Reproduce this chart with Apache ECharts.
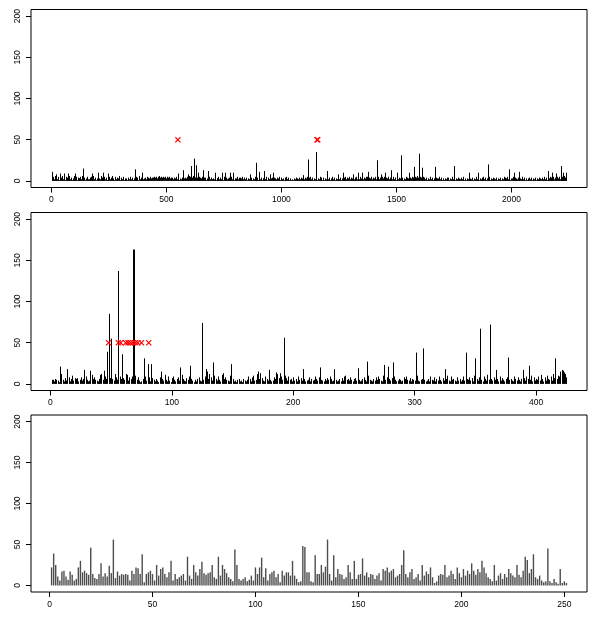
<!DOCTYPE html>
<html>
<head>
<meta charset="utf-8">
<script src="https://cdn.jsdelivr.net/npm/echarts@6/dist/echarts.min.js"></script>
<style>html,body{margin:0;padding:0;background:#fff;}#c{width:600px;height:620px;}</style>
</head>
<body>
<div id="c"></div>
<script>
// ---------- Panel 1 (n = 2239) ----------
const p1N = 2239;
// low-level values, one reading per 4 observations (observation 4k+2)
const p1Base = (
"3526342513 4623153426 2413625143 3526241352" +
"2415362413 5326143524 1352462315 2436142513" +
"2314252413 3524162432 3425343534 4545354645" +
"4545354534 3424352413 2425343536 5646564745" +
"5435342413 2524232413 3524231524 2314252413" +
"3524143524 2413253413 2524152413 3425142534" +
"2413243514 2314152413 1213241324 2435243524" +
"3524132413 2524141324 2413152413 2524132435" +
"2435243524 3524253524 3545243524 3524352435" +
"3524352413 2524132435 2413254324 3524354645" +
"5435242413 2524132413 3524131324 2413252413" +
"2413242513 1324132413 2524132435 2413251324" +
"1324132413 2524352413 3524132413 2524131324" +
"2413241324 1324252413 3524352435 3524354645").replace(/\s+/g, '');
const p1Step = 4;
// peaks: [observation, value]
const p1Peaks = [
[1,11],[18,8],[37,9],[56,9],[71,9],[103,9],[136,15],[175,9],[204,10],[226,10],[248,9],
[363,14],[392,10],[549,9],[571,13],[595,8],[606,18],[619,27],[627,19],[639,10],[660,13],
[682,12],[711,10],[740,10],[755,10],[777,10],[791,10],[863,8],[888,22],[904,11],[924,12],
[950,8],[965,10],[1093,7],[1114,26],[1152,35],[1197,12],[1245,8],[1267,10],[1313,8],
[1333,10],[1349,10],[1377,11],[1414,25],[1432,8],[1450,10],[1475,13],[1501,10],[1518,31],
[1555,10],[1578,17],[1597,33],[1613,16],[1668,17],[1750,18],[1816,10],[1856,10],[1900,20],
[1991,14],[2011,10],[2033,11],[2160,12],[2178,10],[2193,9],[2214,18],[2226,10],[2237,10]];
const p1Marks = [[550,50],[1155,50],[1158,50]];
const p1XTicks = [0,500,1000,1500,2000];

// ---------- Panel 2 (n = 425) ----------
const p2Values = [
5,5,3,6,5,4,2,21,12,5,3,7,4,18,8,3,6,10,4,7,6,7,3,5,8,
4,6,17,9,5,3,4,16,11,6,8,5,4,3,6,11,12,5,16,9,6,39,85,7,55,
6,4,12,8,5,137,9,6,36,7,5,12,11,4,8,6,9,163,163,10,5,8,4,2,3,
6,31,9,4,24,8,3,24,7,5,3,6,4,2,8,15,6,4,11,5,3,9,4,2,7,
9,5,3,6,8,4,20,11,6,4,3,7,5,9,22,6,4,2,5,3,6,8,4,3,74,
5,9,18,15,6,12,8,4,26,10,6,4,9,5,3,11,13,6,8,5,4,3,10,24,6,
3,4,2,5,6,3,4,2,6,4,3,5,9,6,3,8,10,4,5,12,15,6,13,7,4,
3,9,6,4,17,5,3,4,8,6,14,12,7,13,9,5,56,10,7,4,9,5,6,3,8,
4,6,3,9,5,7,4,18,6,3,4,5,8,3,6,4,5,9,6,4,8,20,5,4,3,
6,4,7,5,9,6,3,4,18,5,3,4,6,3,7,4,9,10,5,6,4,8,5,3,6,
7,4,19,5,3,4,6,8,5,3,27,10,5,4,3,6,4,8,5,9,6,4,3,10,23,
5,8,21,6,4,7,26,9,5,3,4,6,5,3,4,8,6,9,5,4,7,3,6,5,4,
38,10,4,3,5,6,43,5,3,4,6,3,9,5,4,8,3,6,4,9,5,3,7,4,18,
6,10,4,3,9,5,6,4,3,8,4,6,3,5,9,4,38,6,5,8,4,7,3,10,31,
6,4,8,67,5,3,9,6,4,11,5,72,6,4,8,5,17,6,3,9,4,7,5,3,6,
8,32,5,6,4,3,9,6,4,8,5,3,6,17,7,4,9,6,22,5,10,3,8,4,6,
5,9,4,11,6,3,8,4,10,6,5,9,4,12,7,31,6,10,9,15,17,16,14,12,8];
const p2Marks = [[48,50],[56,50],[58,50],[62,50],[64,50],[66,50],[68,50],[70,50],[72,50],[75,50],[81,50]];
const p2XTicks = [0,100,200,300,400];

// ---------- Panel 3 (n = 251) ----------
const p3Values = [
22,39,25,11,6,17,18,11,7,17,13,6,8,22,30,16,18,15,13,46,14,9,8,14,27,
11,15,11,24,15,56,9,17,12,14,13,14,13,6,18,14,22,21,14,38,4,14,16,18,14,
6,25,12,20,22,14,10,16,30,6,14,8,10,12,14,6,35,12,8,25,16,12,20,29,15,
13,15,16,25,10,8,35,12,25,20,15,10,8,5,44,25,8,6,8,10,5,7,12,6,22,
14,22,34,10,21,6,14,16,18,10,14,4,18,12,16,16,12,30,12,8,4,5,48,47,16,
16,5,4,37,14,14,25,16,23,56,14,6,37,10,20,14,13,8,10,25,16,8,30,8,13,
14,33,12,16,10,14,13,8,12,15,6,20,18,22,16,18,20,10,12,14,25,43,14,10,16,
20,8,10,14,6,25,12,17,14,22,10,3,5,12,14,13,25,10,12,18,14,8,22,15,10,
20,12,18,14,27,18,13,20,16,30,22,15,10,8,5,25,6,12,15,8,14,10,20,15,12,
10,25,13,10,18,35,31,15,20,38,10,8,12,6,4,5,45,5,3,8,4,2,20,3,5,
3];
const p3XTicks = [0,50,100,150,200,250];

const yTicks = [0,50,100,150,200];

// ---------- build ----------
function rExtent(n){ const d = 0.04*(n-1); return [1-d, n+d]; }
const data1 = p1Base.split('').map((c,k)=>[k*p1Step+2, +c]).concat(p1Peaks);
const data2 = p2Values.map((v,i)=>[i+1, v]);
const data3 = p3Values.map((v,i)=>[i+1, v]);
const n1 = p1N, n2 = p2Values.length, n3 = p3Values.length;

const grids = [
  {left:31, right:13, top:9.5, height:178},
  {left:31, right:13, top:212.5, height:178},
  {left:31, right:13, top:415, height:177}
].map(g=>Object.assign(g,{show:true, borderColor:'#000', borderWidth:1, backgroundColor:'transparent', containLabel:false}));

const font = {fontFamily:'Liberation Sans, Arial, sans-serif', fontSize:8.5, color:'#000',
  formatter:function(v){ return String(Math.round(v)); }};
function xAxis(i, n, ticks){
  const e = rExtent(n);
  return {type:'value', gridIndex:i, min:e[0], max:e[1], splitLine:{show:false},
    axisLine:{show:false, onZero:false},
    axisTick:{show:true, inside:false, length:5, customValues:ticks, lineStyle:{color:'#000', width:1}},
    axisLabel:Object.assign({show:true, margin:8, customValues:ticks}, font)};
}
function yAxis(i){
  return {type:'value', gridIndex:i, min:-8, max:208, splitLine:{show:false},
    axisLine:{show:false, onZero:false},
    axisTick:{show:true, inside:false, length:5, customValues:yTicks, lineStyle:{color:'#000', width:1}},
    axisLabel:Object.assign({show:true, margin:9, rotate:90, customValues:yTicks}, font)};
}
function spikeSeries(i, data, color, w, snap){
  return {type:'custom', xAxisIndex:i, yAxisIndex:i, data:data, encode:{x:0,y:1}, clip:true, silent:true,
    renderItem:function(params, api){
      const x = api.value(0), y = api.value(1);
      const p0 = api.coord([x,0]), p1 = api.coord([x,y]);
      const px = snap ? Math.round(p0[0]) + 0.5 : p0[0];
      return {type:'line', shape:{x1:px, y1:p0[1], x2:px, y2:p1[1]}, style:{stroke:color, lineWidth:w}};
    }};
}
function markSeries(i, data){
  return {type:'custom', xAxisIndex:i, yAxisIndex:i, data:data, encode:{x:0,y:1}, silent:true, z:5,
    renderItem:function(params, api){
      const p = api.coord([api.value(0), api.value(1)]);
      const s = 2.6, st = {stroke:'#ff0000', lineWidth:1.2};
      return {type:'group', children:[
        {type:'line', shape:{x1:p[0]-s, y1:p[1]-s, x2:p[0]+s, y2:p[1]+s}, style:st},
        {type:'line', shape:{x1:p[0]-s, y1:p[1]+s, x2:p[0]+s, y2:p[1]-s}, style:st}
      ]};
    }};
}

const chart = echarts.init(document.getElementById('c'), null, {renderer:'canvas'});
chart.setOption({
  animation:false,
  backgroundColor:'#fff',
  grid:grids,
  xAxis:[xAxis(0,n1,p1XTicks), xAxis(1,n2,p2XTicks), xAxis(2,n3,p3XTicks)],
  yAxis:[yAxis(0), yAxis(1), yAxis(2)],
  series:[
    spikeSeries(0, data1, '#000', 1, true),
    markSeries(0, p1Marks),
    spikeSeries(1, data2, '#000', 1, true),
    markSeries(1, p2Marks),
    spikeSeries(2, data3, '#4d4d4d', 1.4, false)
  ]
});
</script>
</body>
</html>
